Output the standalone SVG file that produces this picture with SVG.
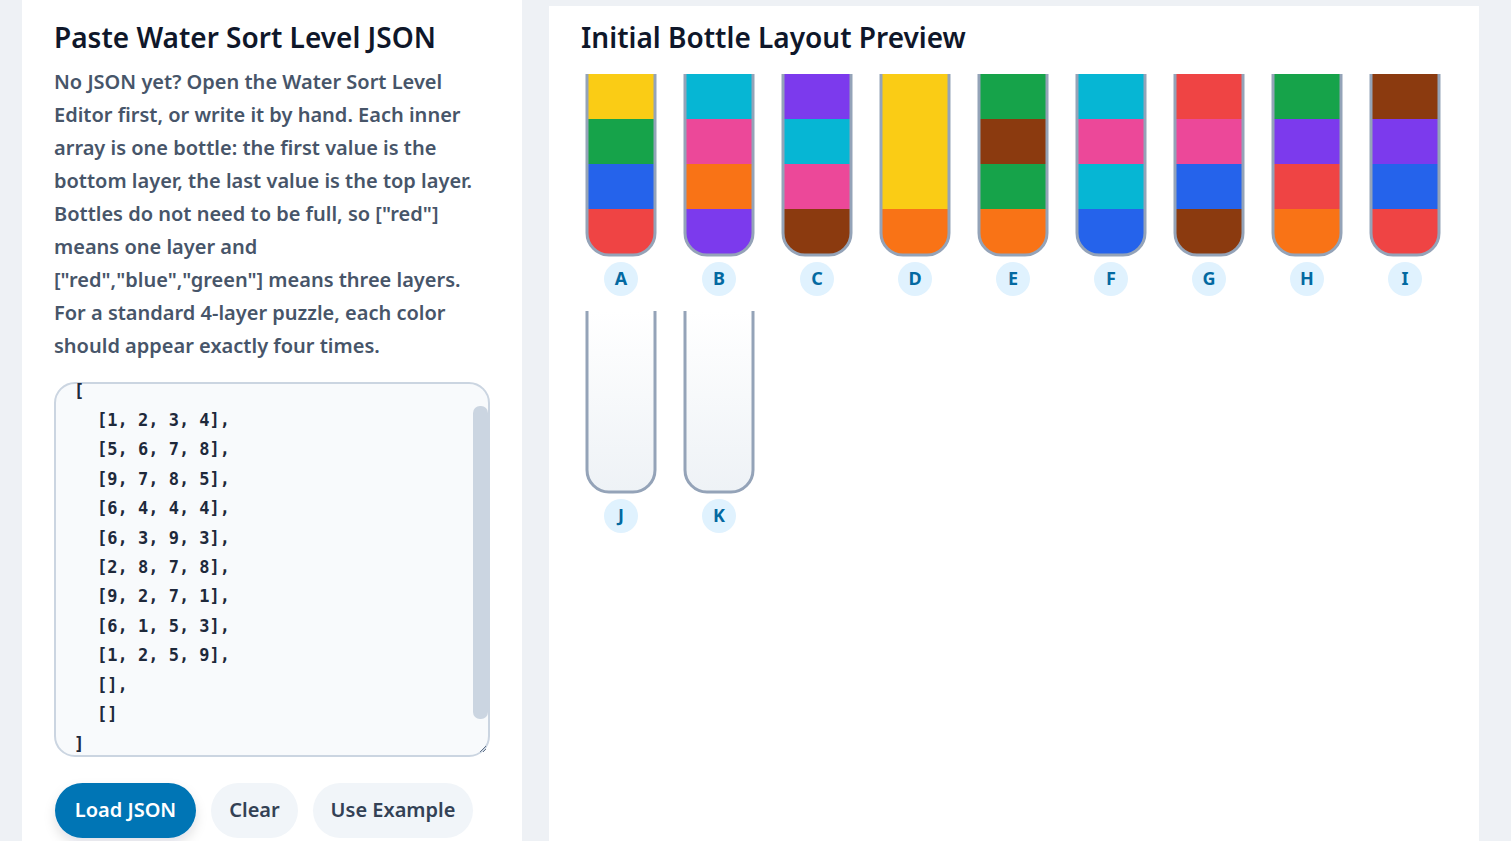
<svg xmlns="http://www.w3.org/2000/svg" width="1511" height="841" viewBox="0 0 1511 841">
<defs>
<style>
.h{font-family:"Noto Sans","Open Sans",sans-serif;font-weight:600;font-size:28px;fill:#0f172a}
.p{font-family:"Noto Sans","Open Sans",sans-serif;font-weight:600;font-size:20px;fill:#475569}
.m{font-family:"DejaVu Sans Mono","Liberation Mono",monospace;font-weight:bold;font-size:17px;fill:#1e293b}
.lb{font-family:"Noto Sans","Open Sans",sans-serif;font-weight:700;font-size:18px;fill:#0369a1;text-anchor:middle}
.bt{font-family:"Noto Sans","Open Sans",sans-serif;font-weight:600;font-size:20px;text-anchor:middle}
.outline{fill:none;stroke:#94a3b8;stroke-width:3}
.sep{stroke:#e2e8f0;stroke-width:1}
</style>
<clipPath id="tube"><path d="M0 0 H68 V159 A22 22 0 0 1 46 181 H22 A22 22 0 0 1 0 159 Z"/></clipPath>
<linearGradient id="empty" x1="0" y1="0" x2="0" y2="1"><stop offset="0" stop-color="#ffffff"/><stop offset="1" stop-color="#eef2f6"/></linearGradient>
<filter id="sh" x="-30%" y="-10%" width="160%" height="130%"><feDropShadow dx="0" dy="6" stdDeviation="6" flood-color="#0f172a" flood-opacity="0.12"/></filter>
</defs>
<rect width="1511" height="841" fill="#eef1f5"/>
<rect x="22" y="0" width="500" height="841" fill="#ffffff"/>
<rect x="549" y="6" width="930" height="835" fill="#ffffff"/>

<g id="left-panel">
<text class="h" x="54" y="48">Paste Water Sort Level JSON</text>
<text class="p" x="54" y="89">No JSON yet? Open the Water Sort Level</text>
<text class="p" x="54" y="122">Editor first, or write it by hand. Each inner</text>
<text class="p" x="54" y="155">array is one bottle: the first value is the</text>
<text class="p" x="54" y="188">bottom layer, the last value is the top layer.</text>
<text class="p" x="54" y="221">Bottles do not need to be full, so ["red"]</text>
<text class="p" x="54" y="254">means one layer and</text>
<text class="p" x="54" y="287">["red","blue","green"] means three layers.</text>
<text class="p" x="54" y="320">For a standard 4-layer puzzle, each color</text>
<text class="p" x="54" y="353">should appear exactly four times.</text>
</g>

<g id="json-textarea">
<rect x="55" y="383" width="434" height="373" rx="20" fill="#f8fafc" stroke="#cbd5e1" stroke-width="2"/>
<rect x="473" y="406" width="15" height="313" rx="7" fill="#cbd5e1"/>
<text class="m" x="74" y="397">[</text>
<text class="m" x="97" y="426">[1, 2, 3, 4],</text>
<text class="m" x="97" y="455">[5, 6, 7, 8],</text>
<text class="m" x="97" y="485">[9, 7, 8, 5],</text>
<text class="m" x="97" y="514">[6, 4, 4, 4],</text>
<text class="m" x="97" y="544">[6, 3, 9, 3],</text>
<text class="m" x="97" y="573">[2, 8, 7, 8],</text>
<text class="m" x="97" y="602">[9, 2, 7, 1],</text>
<text class="m" x="97" y="632">[6, 1, 5, 3],</text>
<text class="m" x="97" y="661">[1, 2, 5, 9],</text>
<text class="m" x="97" y="691">[],</text>
<text class="m" x="97" y="720">[]</text>
<text class="m" x="74" y="750">]</text>
<path d="M480 752 L486 746 M483 752 L486 749" stroke="#64748b" stroke-width="1"/>
</g>

<g id="btn-load"><rect x="55" y="783" width="141" height="55" rx="27.5" fill="#0575b5" filter="url(#sh)"/><text class="bt" x="125.5" y="817" fill="#ffffff">Load JSON</text></g>
<g id="btn-clear"><rect x="211" y="783" width="87" height="55" rx="27.5" fill="#f1f5f9"/><text class="bt" x="254.5" y="817" fill="#334155">Clear</text></g>
<g id="btn-example"><rect x="313" y="783" width="160" height="55" rx="27.5" fill="#f1f5f9"/><text class="bt" x="393" y="817" fill="#334155">Use Example</text></g>

<text class="h" x="581" y="48">Initial Bottle Layout Preview</text>

<g id="bottle-A" transform="translate(587,74)"><g clip-path="url(#tube)"><rect y="0" width="68" height="45" fill="#facc15"/><rect y="45" width="68" height="45" fill="#16a34a"/><rect y="90" width="68" height="45" fill="#2563eb"/><rect y="135" width="68" height="46" fill="#ef4444"/></g><path class="outline" d="M0 0 V159 A22 22 0 0 0 22 181 H46 A22 22 0 0 0 68 159 V0"/><circle cx="34" cy="205" r="17" fill="#e0f2fe"/><text class="lb" x="34" y="211">A</text></g>
<g id="bottle-B" transform="translate(685,74)"><g clip-path="url(#tube)"><rect y="0" width="68" height="45" fill="#06b6d4"/><rect y="45" width="68" height="45" fill="#ec4899"/><rect y="90" width="68" height="45" fill="#f97316"/><rect y="135" width="68" height="46" fill="#7c3aed"/></g><path class="outline" d="M0 0 V159 A22 22 0 0 0 22 181 H46 A22 22 0 0 0 68 159 V0"/><circle cx="34" cy="205" r="17" fill="#e0f2fe"/><text class="lb" x="34" y="211">B</text></g>
<g id="bottle-C" transform="translate(783,74)"><g clip-path="url(#tube)"><rect y="0" width="68" height="45" fill="#7c3aed"/><rect y="45" width="68" height="45" fill="#06b6d4"/><rect y="90" width="68" height="45" fill="#ec4899"/><rect y="135" width="68" height="46" fill="#8b3a0f"/></g><path class="outline" d="M0 0 V159 A22 22 0 0 0 22 181 H46 A22 22 0 0 0 68 159 V0"/><circle cx="34" cy="205" r="17" fill="#e0f2fe"/><text class="lb" x="34" y="211">C</text></g>
<g id="bottle-D" transform="translate(881,74)"><g clip-path="url(#tube)"><rect y="0" width="68" height="45" fill="#facc15"/><rect y="45" width="68" height="45" fill="#facc15"/><rect y="90" width="68" height="45" fill="#facc15"/><rect y="135" width="68" height="46" fill="#f97316"/></g><path class="outline" d="M0 0 V159 A22 22 0 0 0 22 181 H46 A22 22 0 0 0 68 159 V0"/><circle cx="34" cy="205" r="17" fill="#e0f2fe"/><text class="lb" x="34" y="211">D</text></g>
<g id="bottle-E" transform="translate(979,74)"><g clip-path="url(#tube)"><rect y="0" width="68" height="45" fill="#16a34a"/><rect y="45" width="68" height="45" fill="#8b3a0f"/><rect y="90" width="68" height="45" fill="#16a34a"/><rect y="135" width="68" height="46" fill="#f97316"/></g><path class="outline" d="M0 0 V159 A22 22 0 0 0 22 181 H46 A22 22 0 0 0 68 159 V0"/><circle cx="34" cy="205" r="17" fill="#e0f2fe"/><text class="lb" x="34" y="211">E</text></g>
<g id="bottle-F" transform="translate(1077,74)"><g clip-path="url(#tube)"><rect y="0" width="68" height="45" fill="#06b6d4"/><rect y="45" width="68" height="45" fill="#ec4899"/><rect y="90" width="68" height="45" fill="#06b6d4"/><rect y="135" width="68" height="46" fill="#2563eb"/></g><path class="outline" d="M0 0 V159 A22 22 0 0 0 22 181 H46 A22 22 0 0 0 68 159 V0"/><circle cx="34" cy="205" r="17" fill="#e0f2fe"/><text class="lb" x="34" y="211">F</text></g>
<g id="bottle-G" transform="translate(1175,74)"><g clip-path="url(#tube)"><rect y="0" width="68" height="45" fill="#ef4444"/><rect y="45" width="68" height="45" fill="#ec4899"/><rect y="90" width="68" height="45" fill="#2563eb"/><rect y="135" width="68" height="46" fill="#8b3a0f"/></g><path class="outline" d="M0 0 V159 A22 22 0 0 0 22 181 H46 A22 22 0 0 0 68 159 V0"/><circle cx="34" cy="205" r="17" fill="#e0f2fe"/><text class="lb" x="34" y="211">G</text></g>
<g id="bottle-H" transform="translate(1273,74)"><g clip-path="url(#tube)"><rect y="0" width="68" height="45" fill="#16a34a"/><rect y="45" width="68" height="45" fill="#7c3aed"/><rect y="90" width="68" height="45" fill="#ef4444"/><rect y="135" width="68" height="46" fill="#f97316"/></g><path class="outline" d="M0 0 V159 A22 22 0 0 0 22 181 H46 A22 22 0 0 0 68 159 V0"/><circle cx="34" cy="205" r="17" fill="#e0f2fe"/><text class="lb" x="34" y="211">H</text></g>
<g id="bottle-I" transform="translate(1371,74)"><g clip-path="url(#tube)"><rect y="0" width="68" height="45" fill="#8b3a0f"/><rect y="45" width="68" height="45" fill="#7c3aed"/><rect y="90" width="68" height="45" fill="#2563eb"/><rect y="135" width="68" height="46" fill="#ef4444"/></g><path class="outline" d="M0 0 V159 A22 22 0 0 0 22 181 H46 A22 22 0 0 0 68 159 V0"/><circle cx="34" cy="205" r="17" fill="#e0f2fe"/><text class="lb" x="34" y="211">I</text></g>
<g id="bottle-J" transform="translate(587,311)"><rect width="68" height="181" fill="url(#empty)" clip-path="url(#tube)"/><path class="outline" d="M0 0 V159 A22 22 0 0 0 22 181 H46 A22 22 0 0 0 68 159 V0"/><circle cx="34" cy="205" r="17" fill="#e0f2fe"/><text class="lb" x="34" y="211">J</text></g>
<g id="bottle-K" transform="translate(685,311)"><rect width="68" height="181" fill="url(#empty)" clip-path="url(#tube)"/><path class="outline" d="M0 0 V159 A22 22 0 0 0 22 181 H46 A22 22 0 0 0 68 159 V0"/><circle cx="34" cy="205" r="17" fill="#e0f2fe"/><text class="lb" x="34" y="211">K</text></g>
<g id="connectors"/>
</svg>
